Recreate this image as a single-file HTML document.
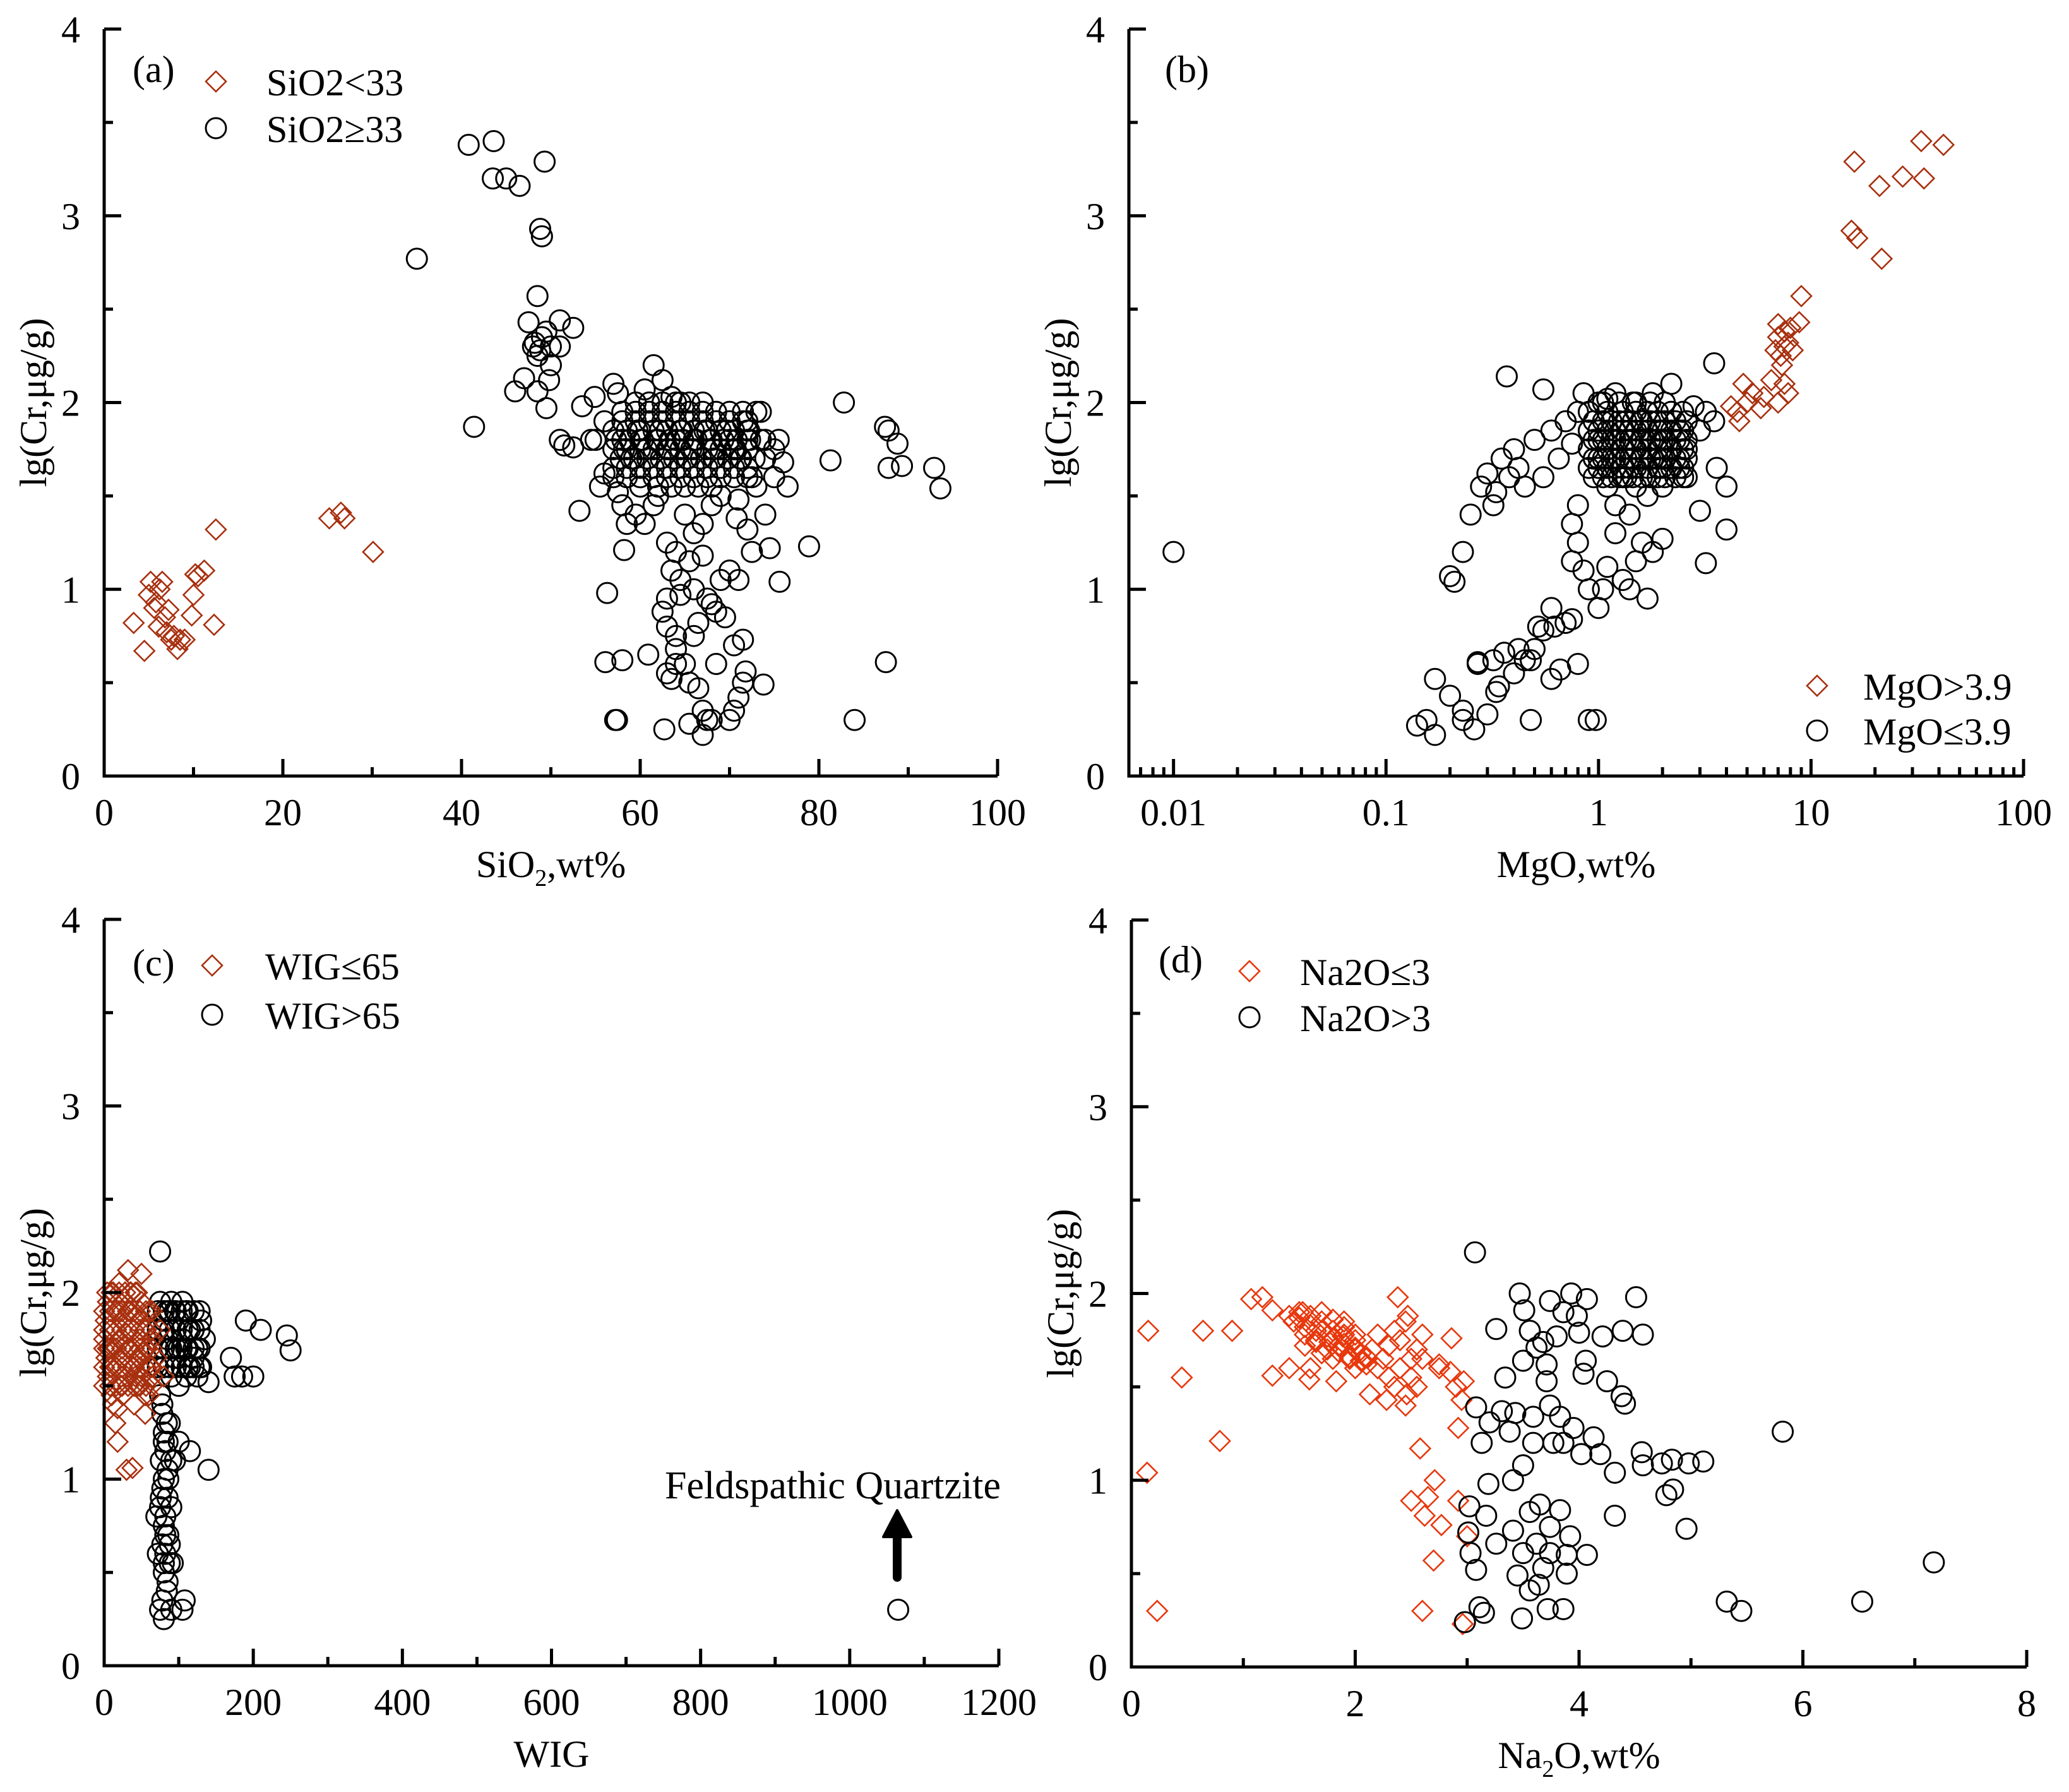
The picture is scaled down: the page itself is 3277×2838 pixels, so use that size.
<!DOCTYPE html>
<html><head><meta charset="utf-8"><style>
html,body{margin:0;padding:0;background:#fff}
svg{display:block}
text{font-family:"Liberation Serif",serif;fill:#000}
</style></head><body>
<svg id="chart" xmlns="http://www.w3.org/2000/svg" width="3277" height="2838" viewBox="0 0 3277 2838">
<rect width="3277" height="2838" fill="#fff"/>
</svg>
<script>
// ---- Panel (a): SiO2 vs lgCr ----
const aDiaX=[3.3,4.5,5,5.2,5.8,6.2,6.5,6.8,7,7.5,7.8,8.2,8.5,9,9.8,10,10.2,10.5,11.2,12.3,12.5,25.2,26.5,26.9,30.1,6.1,7.2,5.6];
const aDiaY=[0.82,0.67,0.97,1.04,0.93,1.0,1.04,0.85,0.77,0.73,0.75,0.68,0.73,0.73,0.86,0.97,1.08,1.07,1.1,0.81,1.32,1.38,1.41,1.38,1.2,0.8,0.89,0.9];
const aCirX=[35,40.8,43.6,43.5,45,46.5,49.3,48.8,49,48.5,47.5,51,52.5,41.4,46,48.5,49.5,47,50,48,48.5,49,48.2,49.5,50,48.8,49.8,51,82.8,81.3,87.4,87.8,88.8,87.8,89.3,92.9,93.6,87.5,84,78.9,75.6,56.3,56.1,58,57.2,57.4,62.7,60.9,51,52.5,51.5,53.2,54.5,53.5,54.9,58.2,
63,64,63.5,64.5,63,62.5,63,64,64,65,63,63.5,65.5,66.5,67,67.5,67,68,70,70.5,71,71.5,71.8,73.8,65.5,66,66.5,68,68.5,69,70,71,72.5,72,70.8,66,65.5,67,67,68,69,71,73,74,74.5,71.5,70.5,68.5,64.5,65,62,60.5,59.5,58.5,58,57,56,55.5,57.5,60,61.5,66,69.5,67.5,64,
74,75,75.5,76,76.5,75,73.5,72,72.5,61.5,62.5,60.5,57,57.5,63.5,64.5,56,55,
57,58.5,60,61.5,63,64.5,66,67.5,69,70.5,72,57,58.5,60,61.5,63,64.5,66,67.5,69,70.5,72,57,58.5,60,61.5,63,64.5,66,67.5,69,70.5,72,58,59.5,61,62.5,64,65.5,67,68.5,70,71.5,73,59,60.8,62.3,63.8,65.2,66.8,68.2,69.8,71.2,58,60,62,64,66,68,70,72,74];
const aCirY=[2.77,3.38,3.4,3.2,3.2,3.16,3.29,2.93,2.89,2.57,2.43,2.44,2.4,1.87,2.06,2.06,1.97,2.13,2.2,2.3,2.25,2.35,2.32,2.38,2.3,2.28,2.12,2.3,2.0,1.69,1.87,1.85,1.78,1.65,1.66,1.65,1.54,0.61,0.3,1.23,1.04,0.98,0.61,0.62,0.3,0.3,0.25,0.65,1.8,1.76,1.77,1.42,1.8,1.98,2.03,1.21,
1.25,1.2,1.1,1.05,0.95,0.88,0.8,0.75,0.68,0.6,0.55,0.52,0.5,0.47,0.35,0.3,0.22,0.3,0.3,0.35,0.42,0.5,0.56,0.49,0.28,0.75,0.82,0.92,0.88,1.05,1.1,1.05,1.2,1.32,1.38,1.3,1.15,1.18,1.35,1.45,1.5,1.48,1.55,1.4,1.22,0.73,0.7,0.6,0.97,1.4,1.5,1.35,1.4,1.35,1.45,1.6,1.62,1.55,1.52,1.55,1.45,1.0,0.85,0.95,0.6,
1.7,1.75,1.8,1.68,1.55,1.6,1.95,1.9,1.6,2.2,2.12,2.07,2.1,2.05,2.03,2.0,1.9,1.8,
1.65,1.65,1.65,1.65,1.65,1.65,1.65,1.65,1.65,1.65,1.65,1.75,1.75,1.75,1.75,1.75,1.75,1.75,1.75,1.75,1.75,1.75,1.85,1.85,1.85,1.85,1.85,1.85,1.85,1.85,1.85,1.85,1.85,1.95,1.95,1.95,1.95,1.95,1.95,1.95,1.95,1.95,1.95,1.95,1.7,1.7,1.7,1.7,1.7,1.7,1.7,1.7,1.7,1.8,1.8,1.8,1.8,1.8,1.8,1.8,1.8,1.8];
const aCoreX=[58.5,60,61.5,63,64.5,66,67.5,69,70.5,72,57.8,59.3,60.8,62.3,63.8,65.3,66.8,68.3,69.8,71.3,72.8,57.3,58.8,60.3,61.8,63.3,64.8,66.3,67.8,69.3,70.8,72.3,73.5,58,59.5,61,62.5,64,65.5,67,68.5,70,71.5,59.5,61,62.5,64,65.5,67,62,63.5,65,66.5,68,58.2,60.7,63.2,65.7,68.2,70.7,59.7,62.2,64.7,67.2,69.7,72.2];
const aCoreY=[1.6,1.6,1.6,1.6,1.6,1.6,1.6,1.6,1.6,1.6,1.7,1.7,1.7,1.7,1.7,1.7,1.7,1.7,1.7,1.7,1.7,1.8,1.8,1.8,1.8,1.8,1.8,1.8,1.8,1.8,1.8,1.8,1.8,1.9,1.9,1.9,1.9,1.9,1.9,1.9,1.9,1.9,1.9,2.0,2.0,2.0,2.0,2.0,2.0,1.55,1.55,1.55,1.55,1.55,1.75,1.75,1.75,1.75,1.75,1.75,1.85,1.85,1.85,1.85,1.85,1.85];
// ---- Panel (b): MgO (log) vs lgCr ----
const bDiaX=[16,15.5,16.5,21,21.5,27,33,34,42,9,8.8,7,7.5,7.2,7.8,8,7,7.5,6.8,7.3,8.2,7.8,6.5,5.8,5,4.5,4.8,6,7.5,4.2,4.6,5.3,7];
const bDiaY=[3.29,2.92,2.88,3.16,2.77,3.21,3.4,3.2,3.38,2.57,2.43,2.35,2.3,2.25,2.32,2.4,2.42,2.38,2.28,2.2,2.28,2.05,2.12,1.97,2.0,1.95,2.1,2.03,2.1,1.98,1.9,2.05,2.0];
const bCirX=[0.01,0.14,0.155,0.17,0.17,0.2,0.2,0.21,0.23,0.23,0.23,0.26,0.27,0.27,0.3,0.33,0.32,0.34,0.36,0.4,0.42,0.45,0.48,0.5,0.48,0.52,0.55,0.6,0.62,0.6,0.66,0.7,0.75,0.8,0.9,0.97,0.75,0.8,0.85,0.9,1.0,1.05,1.1,1.2,1.3,1.4,1.5,1.6,1.7,1.8,2.0,1.4,1.2,0.8,0.75,0.37,0.55,0.85,3.5,3.0,3.2,4.0,4.0,3.6,2.5,0.25,0.28,0.3,0.32,0.33,0.35,0.38,0.4,0.42,0.45,0.5,0.55,0.6,0.65,0.7,0.75,0.8,0.9,1.0,1.1,1.2,0.95,1.1,1.3,1.5,1.7,2.0,2.2,2.6,3.0,3.5,3.2,2.8,2.2,1.8,1.5,
0.9,1.1,1.3,1.5,1.7,1.9,2.2,2.5,0.9,1.1,1.3,1.5,1.7,1.9,2.2,2.5,0.9,1.1,1.3,1.5,1.7,1.9,2.2,2.5,0.9,1.1,1.3,1.5,1.7,1.9,2.2,2.5,1.0,1.2,1.4,1.6,1.8,2.0,2.4,1.0,1.2,1.4,1.6,1.8,2.0,2.4];
const bCirY=[1.2,0.27,0.3,0.22,0.52,0.43,1.07,1.04,1.2,0.3,0.35,0.25,0.6,0.61,0.33,0.45,0.62,0.48,0.66,0.55,0.68,0.62,0.62,0.68,0.3,0.8,0.78,0.9,0.8,0.52,0.57,0.82,0.84,0.6,0.3,0.3,1.15,1.25,1.1,1.0,0.9,1.0,1.12,1.3,1.05,1.0,1.15,1.25,0.95,1.2,1.27,1.4,1.45,1.45,1.35,2.14,2.07,2.05,2.21,1.42,1.14,1.32,1.55,1.65,1.6,1.4,1.55,1.62,1.45,1.52,1.7,1.6,1.75,1.65,1.55,1.8,1.6,1.85,1.7,1.9,1.78,1.95,1.85,2.0,2.02,2.05,1.7,1.55,1.6,1.55,1.5,1.55,1.65,1.75,1.85,1.9,1.95,1.98,2.1,2.05,2.0,
1.65,1.65,1.65,1.65,1.65,1.65,1.65,1.65,1.75,1.75,1.75,1.75,1.75,1.75,1.75,1.75,1.85,1.85,1.85,1.85,1.85,1.85,1.85,1.85,1.95,1.95,1.95,1.95,1.95,1.95,1.95,1.95,1.7,1.7,1.7,1.7,1.7,1.7,1.7,1.8,1.8,1.8,1.8,1.8,1.8,1.8];
const bCoreX=[0.95,1.05,1.15,1.25,1.35,1.45,1.6,1.75,1.9,2.05,2.3,2.6,0.95,1.05,1.15,1.25,1.35,1.45,1.6,1.75,1.9,2.05,2.3,2.6,0.95,1.05,1.15,1.25,1.35,1.45,1.6,1.75,1.9,2.05,2.3,2.6,0.95,1.05,1.15,1.25,1.35,1.45,1.6,1.75,1.9,2.05,2.3,2.6,1.05,1.25,1.45,1.75,2.05,1.0,1.2,1.4,1.7,2.0,2.4,1.0,1.2,1.4,1.7,2.0,2.4];
const bCoreY=[1.6,1.6,1.6,1.6,1.6,1.6,1.6,1.6,1.6,1.6,1.6,1.6,1.7,1.7,1.7,1.7,1.7,1.7,1.7,1.7,1.7,1.7,1.7,1.7,1.8,1.8,1.8,1.8,1.8,1.8,1.8,1.8,1.8,1.8,1.8,1.8,1.9,1.9,1.9,1.9,1.9,1.9,1.9,1.9,1.9,1.9,1.9,1.9,2.0,2.0,2.0,2.0,2.0,1.65,1.65,1.65,1.65,1.65,1.65,1.85,1.85,1.85,1.85,1.85,1.85];
// ---- Panel (c): WIG vs lgCr ----
const cDiaX=[0,2,3,5,5,8,10,10,12,15,15,18,20,20,22,25,25,28,30,30,32,35,35,38,40,42,45,45,48,50,50,55,55,58,60,62,65,50,60,70,75,80,18,30,38,15,8,12,25,40,45,55,5,20,35,10,28,42,52,65,
0,8,16,24,32,40,48,56,64,0,8,16,24,32,40,48,56,64,0,8,16,24,32,40,48,56,64,0,8,16,24,32,40,48,56,64,0,8,16,24,32,40,48,56,64,4,12,20,28,36,44];
const cDiaY=[1.75,1.85,1.65,1.95,1.55,1.8,2.0,1.45,1.7,1.9,1.6,1.38,2.05,1.75,1.5,1.85,1.65,2.0,1.78,1.55,2.12,1.9,1.7,1.6,1.8,2.0,1.65,1.88,1.75,1.55,1.95,1.8,1.45,1.7,1.9,1.6,1.75,2.1,1.45,1.65,1.8,1.55,1.2,1.05,1.06,1.3,1.5,1.4,1.45,1.4,1.5,1.35,1.7,1.9,2.0,1.6,1.72,1.55,1.68,1.55,
1.5,1.5,1.5,1.5,1.5,1.5,1.5,1.5,1.5,1.6,1.6,1.6,1.6,1.6,1.6,1.6,1.6,1.6,1.7,1.7,1.7,1.7,1.7,1.7,1.7,1.7,1.7,1.8,1.8,1.8,1.8,1.8,1.8,1.8,1.8,1.8,1.9,1.9,1.9,1.9,1.9,1.9,1.9,1.9,1.9,2.0,2.0,2.0,2.0,2.0,2.0];
const cCirX=[75,75,80,85,90,95,100,105,110,115,120,125,130,80,90,100,110,120,130,135,95,105,115,85,90,100,110,125,140,115,140,190,210,245,250,170,175,185,200,1065,75,78,80,82,76,85,80,78,85,75,82,80,86,78,82,88,80,85,92,75,80,90,105,108,85,90,88,70,72,90,95,100,
72,80,88,96,104,112,120,128,72,80,88,96,104,112,120,128,72,80,88,96,104,112,120,128,72,80,88,96,104,112,120,128,78,84,80,86,76,82,88,80,84,78];
const cCirY=[2.22,1.95,1.85,1.75,1.95,1.65,1.85,1.75,1.9,1.6,1.8,1.7,1.85,1.6,1.55,1.5,1.55,1.65,1.6,1.75,1.9,1.95,1.8,1.9,1.7,1.7,1.7,1.55,1.52,1.15,1.05,1.85,1.8,1.77,1.69,1.65,1.55,1.55,1.55,0.3,1.45,1.35,1.25,1.15,1.1,1.05,1.0,0.95,0.9,0.85,0.8,0.75,0.7,0.65,0.6,0.55,0.5,0.45,0.55,0.3,0.25,0.3,0.3,0.35,1.2,1.1,1.3,0.8,0.6,0.85,1.1,1.2,
1.6,1.6,1.6,1.6,1.6,1.6,1.6,1.6,1.7,1.7,1.7,1.7,1.7,1.7,1.7,1.7,1.8,1.8,1.8,1.8,1.8,1.8,1.8,1.8,1.9,1.9,1.9,1.9,1.9,1.9,1.9,1.9,1.4,1.3,1.2,1.0,0.9,0.7,0.65,0.55,0.4,0.35];
// ---- Panel (d): Na2O vs lgCr ----
const dDiaX=[0.15,0.14,0.23,0.45,0.64,0.9,0.79,1.07,1.17,1.26,1.26,1.41,1.41,1.53,1.59,1.65,1.77,1.83,1.89,2.0,2.13,2.28,2.38,2.47,2.46,2.58,2.71,2.5,2.65,2.62,2.77,2.7,2.6,2.86,2.92,2.95,2.97,2.92,3.0,2.96,2.75,2.6,
1.45,1.5,1.55,1.6,1.65,1.7,1.75,1.8,1.85,1.9,1.95,2.0,2.05,2.1,2.15,2.2,2.25,2.3,2.35,2.4,2.45,2.5,2.55,2.6,1.55,1.7,2.0,2.3,2.5,2.35,2.55,1.6,1.8,1.9,2.2,2.4,2.45,2.75,2.85,2.9,
1.5,1.6,1.7,1.8,1.9,2.0,2.1,1.55,1.65,1.75,1.85,1.95,2.05,1.7,1.8,1.9,2.0];
const dDiaY=[1.80,1.04,0.30,1.55,1.80,1.80,1.21,1.97,1.98,1.91,1.56,1.6,1.88,1.9,1.54,1.8,1.74,1.53,1.77,1.71,1.46,1.43,1.98,1.88,1.46,1.17,1.0,0.89,0.91,0.81,0.76,0.57,0.3,1.76,1.28,1.43,1.53,0.89,0.70,0.23,1.62,1.65,
1.85,1.9,1.82,1.88,1.75,1.85,1.7,1.8,1.72,1.78,1.65,1.75,1.68,1.62,1.7,1.78,1.65,1.72,1.8,1.6,1.85,1.55,1.7,1.78,1.72,1.68,1.6,1.55,1.65,1.5,1.5,1.6,1.65,1.85,1.6,1.75,1.4,1.6,1.58,1.5,
1.87,1.83,1.8,1.76,1.73,1.7,1.66,1.78,1.74,1.77,1.69,1.66,1.64,1.9,1.86,1.82,1.78];
const dCirX=[3.07,3.47,3.51,3.26,3.56,3.74,3.93,4.07,3.86,3.98,3.8,4.0,4.21,4.39,4.51,4.57,3.5,3.62,3.68,3.71,3.71,3.34,4.04,4.06,4.25,4.38,4.41,3.08,3.2,3.31,3.43,3.59,3.74,3.83,3.86,3.95,4.13,4.19,4.02,3.77,3.59,3.38,3.5,3.13,3.19,3.41,4.32,4.56,4.57,4.74,4.83,4.98,5.11,4.78,4.84,4.96,4.32,5.82,3.02,3.17,3.26,3.41,3.56,3.65,3.74,3.83,3.92,3.62,3.5,3.74,3.89,4.07,3.68,3.89,3.45,3.56,3.64,3.01,3.03,3.08,3.11,3.15,3.49,3.72,3.86,5.32,5.45,6.53,7.17,2.98];
const dCirY=[2.22,2.0,1.91,1.81,1.80,1.96,2.0,1.97,1.9,1.88,1.77,1.79,1.77,1.8,1.98,1.78,1.64,1.71,1.74,1.62,1.53,1.55,1.57,1.64,1.53,1.45,1.41,1.39,1.31,1.37,1.36,1.34,1.4,1.34,1.2,1.28,1.23,1.14,1.14,1.2,1.2,1.26,1.08,1.2,0.98,1.0,1.04,1.15,1.08,1.09,1.11,1.09,1.1,0.92,0.95,0.74,0.81,1.26,0.86,0.81,0.66,0.73,0.83,0.87,0.75,0.84,0.7,0.66,0.61,0.61,0.6,0.6,0.53,0.5,0.49,0.41,0.44,0.72,0.61,0.52,0.32,0.29,0.26,0.31,0.31,0.35,0.3,0.35,0.56,0.24];
// tick labels
const yTickLabels=["0","1","2","3","4"];
const aXTicks=["0","20","40","60","80","100"];
const bXTicks=["0.01","0.1","1","10","100"];
const cXTicks=["0","200","400","600","800","1000","1200"];
const dXTicks=["0","2","4","6","8"];

const NS="http://www.w3.org/2000/svg";
const svg=document.getElementById('chart');
function el(tag,attrs,parent){const e=document.createElementNS(NS,tag);for(const k in attrs)e.setAttribute(k,attrs[k]);(parent||svg).appendChild(e);return e;}

const DARK="#a8300f", BRIGHT="#e8380d";
function diamond(g,x,y,color){
  const s=16;
  const p=el('polygon',{points:`${x},${y-s} ${x+s},${y} ${x},${y+s} ${x-s},${y}`,fill:'none',stroke:color,'stroke-width':2.6},g);
  
  
}
function circle(g,x,y){
  const c=el('circle',{cx:x,cy:y,r:16,fill:'none',stroke:'#000','stroke-width':3},g);
  
  
}

function panel(cfg){
  const g=el('g',{});
  
  
  const {L,R,T,B}=cfg;
  const sy=v=>B-(v/4)*(B-T);
  const sx=cfg.sx;
  const pts=el('g',{},g);
  
  
  if(cfg.circlesFirst){
    cfg.cx.forEach((v,i)=>circle(pts,sx(v),sy(cfg.cy[i])));
    cfg.dx.forEach((v,i)=>diamond(pts,sx(v),sy(cfg.dy[i]),cfg.dcol));
  } else {
    cfg.dx.forEach((v,i)=>diamond(pts,sx(v),sy(cfg.dy[i]),cfg.dcol));
    cfg.cx.forEach((v,i)=>circle(pts,sx(v),sy(cfg.cy[i])));
  }
  const ax=el('path',{d:`M${L},${T} L${L},${B} L${R},${B}`,fill:'none',stroke:'#000','stroke-width':5},g);
  
  
  for(let i=0;i<=8;i++){
    const y=sy(i/2), len=(i%2===0)?27:14;
    el('line',{x1:L,y1:y,x2:L+len,y2:y,stroke:'#000','stroke-width':5},g);
  }
  yTickLabels.forEach((t,i)=>{
    const tx=el('text',{x:L-38,y:sy(i)+21,'font-size':60,'text-anchor':'end'},g);
    tx.textContent=t;
    
    
  });
  cfg.xticks(g);
  cfg.xLabels.forEach((t,i)=>{
    const tx=el('text',{x:cfg.xLabelPos(i),y:B+78,'font-size':60,'text-anchor':'middle'},g);
    tx.textContent=t;
    
    
  });
  const yt=el('text',{x:0,y:0,'font-size':60,'text-anchor':'middle',transform:`translate(${L-92},${(T+B)/2}) rotate(-90)`},g);
  yt.textContent='lg(Cr,μg/g)';
  
  
  const xt=el('text',{x:(L+R)/2,y:B+160,'font-size':60,'text-anchor':'middle'},g);
  xt.innerHTML=cfg.xtitle;
  
  
  const pl=el('text',{x:cfg.letterX,y:cfg.letterY,'font-size':60},g);
  pl.textContent=cfg.letter;
  
  
  const lg=el('g',{},g);
  
  
  diamond(lg,cfg.legX,cfg.legY1,cfg.dcol);
  circle(lg,cfg.legX,cfg.legY2);
  const t1=el('text',{x:cfg.legTX,y:cfg.legY1+22,'font-size':60},lg);
  t1.textContent=cfg.leg1;
  
  
  const t2=el('text',{x:cfg.legTX,y:cfg.legY2+22,'font-size':60},lg);
  t2.textContent=cfg.leg2;
  
  
  return g;
}
function linTicks(L,R,B,max,major,minor){
  return function(g){
    const sx=v=>L+v/max*(R-L);
    for(let v=0;v<=max+1e-9;v+=minor){
      const isMaj=Math.abs(v/major-Math.round(v/major))<1e-6;
      el('line',{x1:sx(v),y1:B,x2:sx(v),y2:B-(isMaj?27:14),stroke:'#000','stroke-width':5},g);
    }
  };
}

(function(){const L=165,R=1580,T=46,B=1229;
panel({name:'panel-a',L,R,T,B,sx:v=>L+v/100*(R-L),dx:aDiaX,dy:aDiaY,cx:aCirX.concat(aCoreX),cy:aCirY.concat(aCoreY),dcol:DARK,
 xticks:linTicks(L,R,B,100,20,10),xLabels:aXTicks,xLabelPos:i=>L+i*20/100*(R-L),
 xtitle:'SiO<tspan font-size="38" dy="14">2</tspan><tspan dy="-14">,wt%</tspan>',
 letter:'(a)',letterX:210,letterY:130,legX:342,legY1:129,legY2:203,legTX:422,leg1:'SiO2<33',leg2:'SiO2≥33'});})();
(function(){const L=1788,R=3205,T=46,B=1229;const lo=-2.21,hi=2;
const sx=v=>L+(Math.log10(v)-lo)/(hi-lo)*(R-L);
panel({name:'panel-b',L,R,T,B,sx,dx:bDiaX,dy:bDiaY,cx:bCirX.concat(bCoreX),cy:bCirY.concat(bCoreY),dcol:DARK,circlesFirst:true,
 xticks:function(g){for(let d=-3;d<2;d++){for(let m=1;m<10;m++){const v=m*Math.pow(10,d);const lv=Math.log10(v);if(lv<lo-1e-9||lv>hi+1e-9)continue;el('line',{x1:sx(v),y1:B,x2:sx(v),y2:B-(m===1?27:14),stroke:'#000','stroke-width':5},g);}}el('line',{x1:sx(100),y1:B,x2:sx(100),y2:B-27,stroke:'#000','stroke-width':5},g);},
 xLabels:bXTicks,xLabelPos:i=>sx(Math.pow(10,i-2)),
 xtitle:'MgO,wt%',
 letter:'(b)',letterX:1845,letterY:130,legX:2878,legY1:1086,legY2:1157,legTX:2951,leg1:'MgO>3.9',leg2:'MgO≤3.9'});})();
(function(){const L=165,R=1582,T=1456,B=2638;
const g=panel({name:'panel-c',L,R,T,B,sx:v=>L+v/1200*(R-L),dx:cDiaX,dy:cDiaY,cx:cCirX,cy:cCirY,dcol:DARK,circlesFirst:true,
 xticks:linTicks(L,R,B,1200,200,100),xLabels:cXTicks,xLabelPos:i=>L+i*200/1200*(R-L),
 xtitle:'WIG',
 letter:'(c)',letterX:210,letterY:1545,legX:336,legY1:1529,legY2:1607,legTX:420,leg1:'WIG≤65',leg2:'WIG>65'});
 const ann=el('text',{x:1319,y:2373,'font-size':62,'text-anchor':'middle'},g);
 ann.textContent='Feldspathic Quartzite';
 
 
 const ar=el('g',{},g);
 
 
 el('line',{x1:1421,y1:2498,x2:1421,y2:2430,stroke:'#000','stroke-width':14,'stroke-linecap':'round'},ar);
 el('polygon',{points:'1421,2392 1443,2434 1399,2434',fill:'#000',stroke:'#000','stroke-width':4,'stroke-linejoin':'round'},ar);
})();
(function(){const L=1792,R=3210,T=1457,B=2640;
panel({name:'panel-d',L,R,T,B,sx:v=>L+v/8*(R-L),dx:dDiaX,dy:dDiaY,cx:dCirX,cy:dCirY,dcol:BRIGHT,
 xticks:linTicks(L,R,B,8,2,1),xLabels:dXTicks,xLabelPos:i=>L+i*2/8*(R-L),
 xtitle:'Na<tspan font-size="38" dy="14">2</tspan><tspan dy="-14">O,wt%</tspan>',
 letter:'(d)',letterX:1835,letterY:1540,legX:1979,legY1:1538,legY2:1611,legTX:2059,leg1:'Na2O≤3',leg2:'Na2O>3'});})();
</script>
</body></html>
